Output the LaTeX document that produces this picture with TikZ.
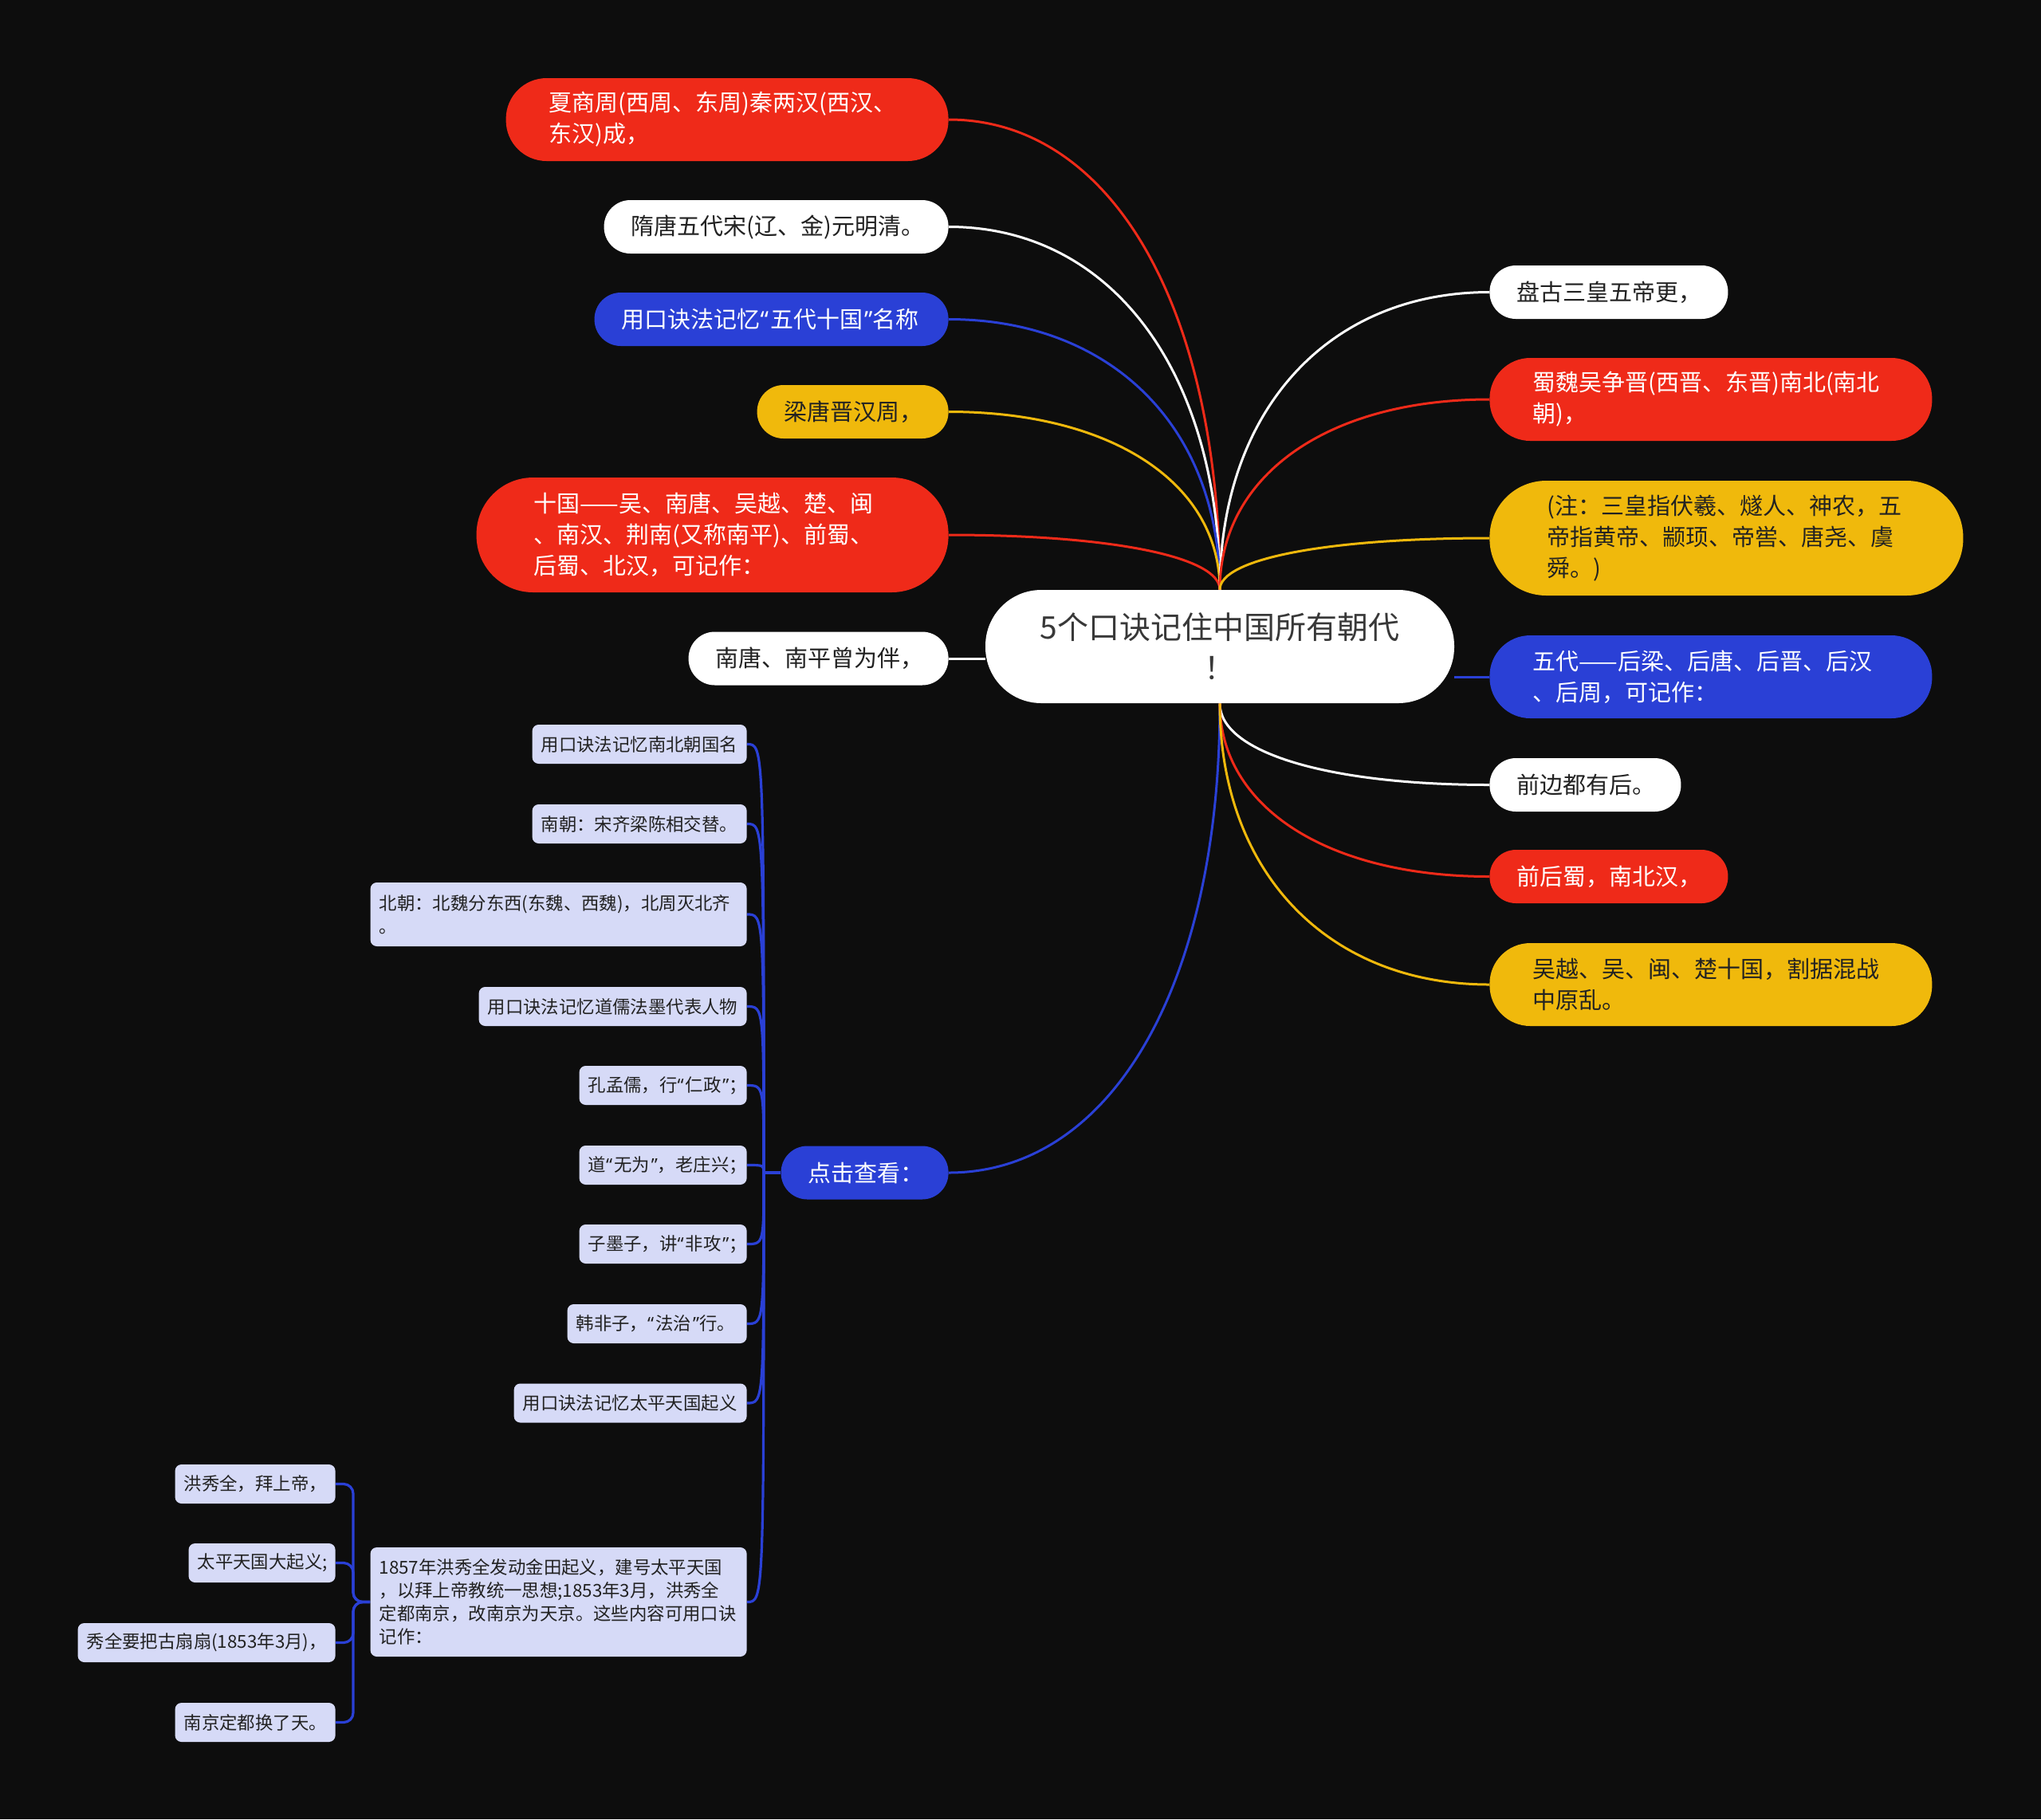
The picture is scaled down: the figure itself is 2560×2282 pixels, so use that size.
\documentclass[tikz,border=0pt]{standalone}
\usepackage{fontspec}
\setmainfont{Noto Sans CJK SC}
\newfontfamily\quofont{Noto Sans}
\newcommand{\lquo}{{\quofont “}\kern1pt}
\newcommand{\rquo}{\kern1pt{\quofont ”}}
\usetikzlibrary{backgrounds,calc}
\definecolor{bgc}{RGB}{13,13,13}
\definecolor{mred}{RGB}{239,42,25}
\definecolor{mblue}{RGB}{42,64,214}
\definecolor{myellow}{RGB}{240,185,12}
\definecolor{mlav}{RGB}{214,218,247}
\definecolor{mdark}{RGB}{34,34,34}

\begin{document}
\begin{tikzpicture}[x=0.5pt,y=-0.5pt]
\tikzstyle{topic}=[anchor=east,align=left,inner ysep=2pt,font=\fontsize{14.5}{19.5}\selectfont]
\tikzstyle{one}=[topic,minimum height=33.5pt,rounded corners=16.5pt,inner xsep=17pt]
\tikzstyle{two}=[topic,minimum height=52pt,rounded corners=25.5pt,inner xsep=27pt]
\tikzstyle{three}=[topic,minimum height=72pt,rounded corners=35.5pt,inner xsep=36pt]
\tikzstyle{cred}=[fill=mred,text=white]
\tikzstyle{cwhite}=[fill=white,text=mdark]
\tikzstyle{cblue}=[fill=mblue,text=white]
\tikzstyle{cyellow}=[fill=myellow,text=mdark]
\tikzstyle{sub}=[anchor=east,align=left,fill=mlav,text=mdark,rounded corners=4pt,inner xsep=5.5pt,inner ysep=2pt,minimum height=24.5pt,font=\fontsize{11.2}{14.5}\selectfont]
\tikzstyle{mmlink}=[draw,line width=1.5pt,to path={.. controls ($(\tikztostart)!0.6!(\tikztotarget |- \tikztostart)$) and ($(\tikztotarget)!0.6!(\tikztotarget |- \tikztostart)$) .. (\tikztotarget)}]
\tikzstyle{kidlink}=[draw=mblue,line width=1.6pt,to path={.. controls (\tikztotarget |- \tikztostart) .. (\tikztotarget)}]
\tikzstyle{sublink}=[draw=mblue,line width=1.6pt]

    \node[fill=white,text=mdark!90,rounded corners=35pt,minimum width=294pt,minimum height=71pt,align=center,font=\fontsize{19.5}{25.5}\selectfont] (root) at (1530,811) {5个口诀记住中国所有朝代\\！};

    \node[two,cred,text width=223.5pt] (xia) at (1190,150) {夏商周(西周、东周)秦两汉(西汉、\\东汉)成，};
    \node[one,cwhite,text width=182pt] (sui) at (1190,284.5) {隋唐五代宋(辽、金)元明清。};
    \node[one,cblue,text width=188pt] (wdsg) at (1190,400.5) {用口诀法记忆\lquo 五代十国\rquo 名称};
    \node[one,cyellow,text width=86pt] (liang) at (1190,516.5) {梁唐晋汉周，};
    \node[three,cred,text width=224pt] (shiguo) at (1190,671) {十国——吴、南唐、吴越、楚、闽\\、南汉、荆南(又称南平)、前蜀、\\后蜀、北汉，可记作：};
    \node[one,cwhite,text width=129pt] (nantang) at (1190,826) {南唐、南平曾为伴，};
    \node[one,cblue,text width=71pt] (click) at (1190,1471) {点击查看：};

    \node[one,cwhite,text width=115.5pt,anchor=west] (pangu) at (1868,366.5) {盘古三皇五帝更，};
    \node[two,cred,text width=223.5pt,anchor=west] (shuwei) at (1868,501) {蜀魏吴争晋(西晋、东晋)南北(南北\\朝)，};
    \node[three,cyellow,text width=225pt,anchor=west] (zhu) at (1868,675) {(注：三皇指伏羲、燧人、神农，五\\帝指黄帝、颛顼、帝喾、唐尧、虞\\舜。)};
    \node[two,cblue,text width=223.5pt,anchor=west] (wudai) at (1868,849) {五代——后梁、后唐、后晋、后汉\\、后周，可记作：};
    \node[one,cwhite,text width=86pt,anchor=west] (qianbian) at (1868,984.5) {前边都有后。};
    \node[one,cred,text width=115.5pt,anchor=west] (qianhou) at (1868,1099.5) {前后蜀，南北汉，};
    \node[two,cyellow,text width=223.5pt,anchor=west] (wuyue) at (1868,1235) {吴越、吴、闽、楚十国，割据混战\\中原乱。};

    \node[sub,text width=123.5pt] (nbc) at (937,933.5) {用口诀法记忆南北朝国名};
    \node[sub,text width=123.5pt] (nanchao) at (937,1033.5) {南朝：宋齐梁陈相交替。};
    \node[sub,text width=225pt,minimum height=40pt] (beichao) at (937,1147) {北朝：北魏分东西(东魏、西魏)，北周灭北齐\\。};
    \node[sub,text width=157pt] (daoru) at (937,1262.5) {用口诀法记忆道儒法墨代表人物};
    \node[sub,text width=94pt] (kong) at (937,1361.5) {孔孟儒，行\lquo 仁政\rquo ；};
    \node[sub,text width=94pt] (lao) at (937,1461.5) {道\lquo 无为\rquo ，老庄兴；};
    \node[sub,text width=94pt] (mo) at (937,1560.5) {子墨子，讲\lquo 非攻\rquo ；};
    \node[sub,text width=101.5pt] (han) at (937,1660.5) {韩非子，\lquo 法治\rquo 行。};
    \node[sub,text width=135pt] (tp) at (937,1760) {用口诀法记忆太平天国起义};
    \node[sub,text width=225pt,minimum height=68.5pt] (jintian) at (937,2009.5) {1857年洪秀全发动金田起义，建号太平天国\\，以拜上帝教统一思想;1853年3月，洪秀全\\定都南京，改南京为天京。这些内容可用口诀\\记作：};

    \node[sub,text width=89.5pt] (hong) at (421,1861.5) {洪秀全，拜上帝，};
    \node[sub,text width=81pt] (taiping) at (421,1960.5) {太平天国大起义;};
    \node[sub,text width=150.5pt] (shan) at (421,2060.5) {秀全要把古扇扇(1853年3月)，};
    \node[sub,text width=89.5pt] (nanjing) at (421,2160.5) {南京定都换了天。};

    \coordinate (hub) at (958,1471);
    \coordinate (hub2) at (443,2009.5);

\begin{scope}[on background layer]
    \fill[bgc] (0,0) rectangle (2560,2282);
    \path (xia.east) edge[mmlink,draw=mred] (root.north);
    \path (sui.east) edge[mmlink,draw=white] (root.north);
    \path (wdsg.east) edge[mmlink,draw=mblue] (root.north);
    \path (liang.east) edge[mmlink,draw=myellow] (root.north);
    \path (shiguo.east) edge[mmlink,draw=mred] (root.north);
    \path (nantang.east) edge[draw=white,line width=1.5pt] (nantang.east -| root.west);
    \path (click.east) edge[mmlink,draw=mblue] (root.south);
    \path (pangu.west) edge[mmlink,draw=white] (root.north);
    \path (shuwei.west) edge[mmlink,draw=mred] (root.north);
    \path (zhu.west) edge[mmlink,draw=myellow] (root.north);
    \path (wudai.west) edge[draw=mblue,line width=1.5pt] (wudai.west -| root.east);
    \path (qianbian.west) edge[mmlink,draw=white] (root.south);
    \path (qianhou.west) edge[mmlink,draw=mred] (root.south);
    \path (wuyue.west) edge[mmlink,draw=myellow] (root.south);
    \draw[sublink] (click.west) -- (hub);
    \foreach \k in {nbc,nanchao,beichao,daoru,kong,lao,mo,han,tp,jintian}
        \path (\k.east) edge[kidlink] (hub);
    \foreach \k in {hong,taiping,shan,nanjing}
        \draw[sublink,rounded corners=6pt] (\k.east) -| (hub2) -- (jintian.west);
\end{scope}
\end{tikzpicture}
\end{document}
